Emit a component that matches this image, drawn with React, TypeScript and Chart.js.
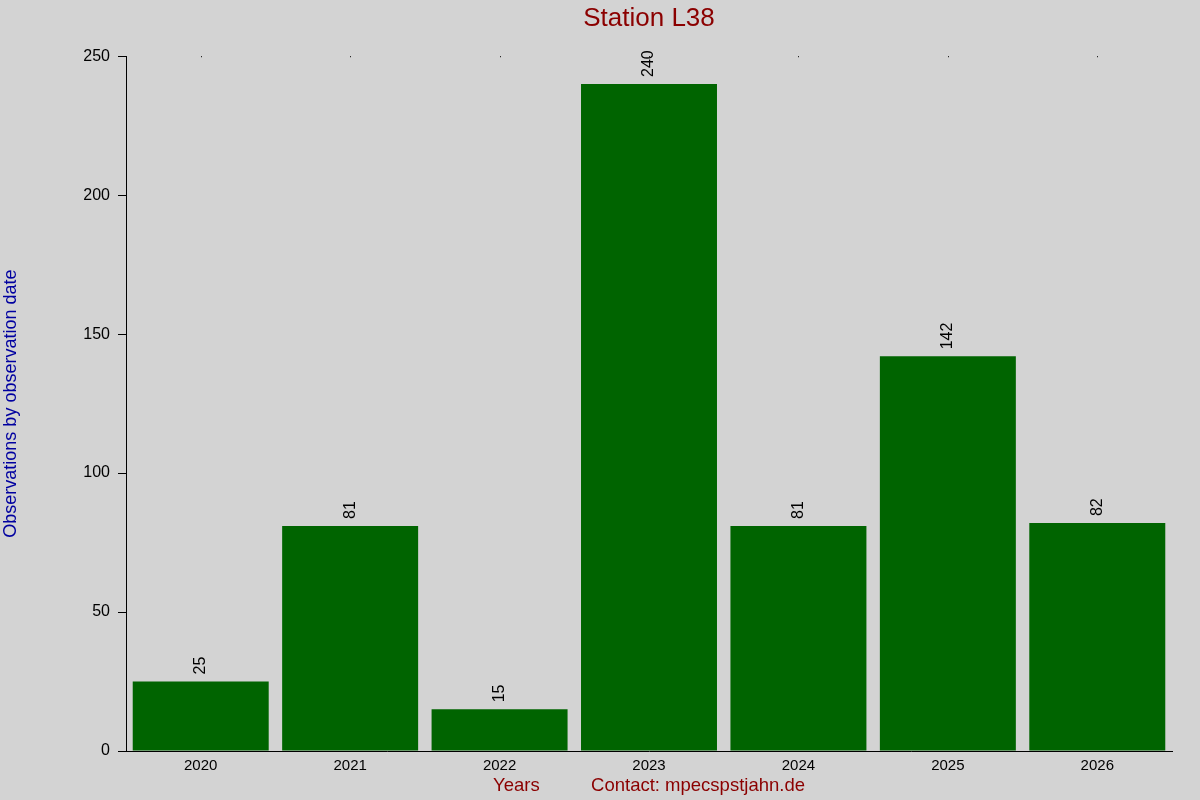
import { useEffect, useRef } from 'react';
import { Chart, registerables, Plugin } from 'chart.js';

Chart.register(...registerables);

const years = ['2020', '2021', '2022', '2023', '2024', '2025', '2026'];
const observations = [25, 81, 15, 240, 81, 142, 82];
const yTicks = [0, 50, 100, 150, 200, 250];

const BG = '#d3d3d3';
const FONT = "'Liberation Sans', Arial, sans-serif";

// rotated value above each bar + small dot at top of each category
const barLabels: Plugin<'bar'> = {
  id: 'barLabels',
  afterDatasetsDraw(chart) {
    const { ctx, chartArea } = chart;
    const meta = chart.getDatasetMeta(0);
    const xs = chart.scales.x;
    ctx.save();
    ctx.fillStyle = '#000';
    years.forEach((_, i) => {
      const px = Math.round(xs.getPixelForValue(i));
      ctx.fillRect(px, chartArea.top, 1, 1);
    });
    ctx.font = `16px ${FONT}`;
    ctx.textAlign = 'left';
    ctx.textBaseline = 'middle';
    meta.data.forEach((bar, i) => {
      ctx.save();
      ctx.translate(bar.x, bar.y - 7);
      ctx.rotate(-Math.PI / 2);
      ctx.fillText(String(observations[i]), 0, 0);
      ctx.restore();
    });
    ctx.restore();
  },
};

export default function App() {
  const canvasRef = useRef<HTMLCanvasElement>(null);

  useEffect(() => {
    document.body.style.margin = '0';
    if (!canvasRef.current) return;
    Chart.defaults.font.family = FONT;
    const chart = new Chart(canvasRef.current, {
      type: 'bar',
      data: {
        labels: years,
        datasets: [{
          data: observations,
          backgroundColor: '#006400',
          borderWidth: 0,
          categoryPercentage: 1,
          barPercentage: 0.91,
        }],
      },
      options: {
        animation: false,
        responsive: false,
        layout: { padding: { left: 0, right: 28, top: 0, bottom: 0 } },
        plugins: {
          legend: { display: false },
          tooltip: { enabled: false },
          title: {
            display: true,
            fullSize: false,
            text: 'Station L38',
            color: '#8b0000',
            font: { size: 26, weight: 'normal' },
            padding: { top: 3, bottom: 22 },
          },
        },
        scales: {
          x: {
            grid: { display: false, drawTicks: false, tickLength: 0 },
            border: { display: true, color: '#000', width: 1 },
            ticks: { color: '#000', font: { size: 15 }, padding: 6 },
            title: {
              display: true,
              text: 'Years          Contact: mpecspstjahn.de',
              color: '#8b0000',
              font: { size: 18.5 },
              padding: { top: 0, bottom: 3 },
            },
            afterFit: (s) => { s.height = 49; },
          },
          y: {
            min: 0,
            max: 250,
            afterBuildTicks: (s) => { s.ticks = yTicks.map((v) => ({ value: v })); },
            grid: { drawOnChartArea: false, drawTicks: true, tickLength: 8, color: '#000' },
            border: { display: true, color: '#000', width: 1 },
            ticks: { color: '#000', font: { size: 16 }, padding: 8 },
            title: {
              display: true,
              text: 'Observations by observation date',
              color: '#0000a0',
              font: { size: 18 },
              padding: 0,
            },
            afterFit: (s) => { s.width = 126; },
          },
        },
      },
      plugins: [barLabels],
    });
    return () => { chart.destroy(); };
  }, []);

  return (
    <div style={{ width: 1200, height: 800, background: BG }}>
      <canvas ref={canvasRef} width={1200} height={800} />
    </div>
  );
}
